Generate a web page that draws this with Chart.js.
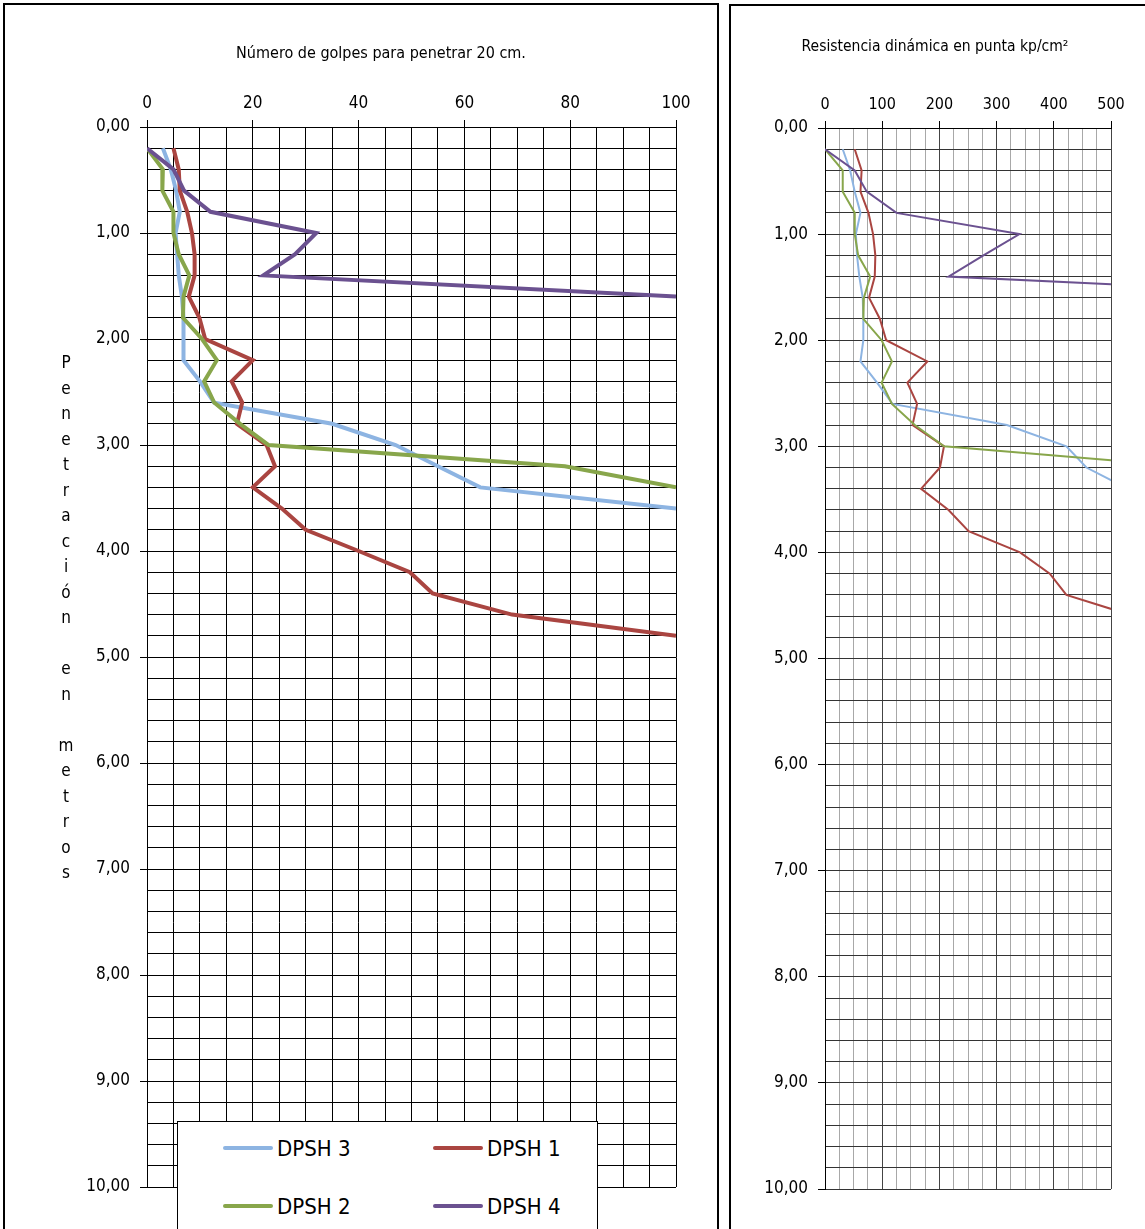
<!DOCTYPE html>
<html>
<head>
<meta charset="utf-8">
<script src="https://cdn.jsdelivr.net/npm/chart.js@4.4.1/dist/chart.umd.min.js"></script>
<style>
body { margin:0; background:#fff; width:1145px; height:1229px; overflow:hidden; position:relative;
       font-family:'Liberation Sans Narrow','Arial Narrow','DejaVu Sans Condensed',sans-serif; }
.panel { position:absolute; border:2px solid #000; box-sizing:border-box; }
canvas { position:absolute; top:0; }
#ejeY { position:absolute; left:56px; top:350px; width:20px; font-size:17px; line-height:25.5px; text-align:center; color:#000; }
#leyenda { position:absolute; left:177px; top:1121px; width:421px; height:140px; border:1px solid #000; background:#fff; box-sizing:border-box; }
.item { position:absolute; height:30px; display:flex; align-items:center; font-size:22px; color:#000; }
.item span.linea { display:inline-block; width:50px; height:4px; border-radius:2px; margin-right:4px; }
</style>
</head>
<body>
<div class="panel" style="left:3px;top:3px;width:716px;height:1300px;"></div>
<div class="panel" style="left:729px;top:4px;width:500px;height:1300px;"></div>
<canvas id="graficoGolpes" width="670" height="1229" style="left:50px;"></canvas>
<canvas id="graficoResistencia" width="410" height="1229" style="left:730px;"></canvas>
<div id="ejeY"></div>
<div id="leyenda"></div>
<script>
// profundidades (m), cada 20 cm
const profundidad = [0.2, 0.4, 0.6, 0.8, 1.0, 1.2, 1.4, 1.6, 1.8, 2.0, 2.2, 2.4, 2.6, 2.8, 3.0, 3.2, 3.4, 3.6, 3.8, 4.0, 4.2, 4.4, 4.6, 4.8];
const series = ['DPSH 3', 'DPSH 1', 'DPSH 2', 'DPSH 4'];
const colores = ['#8db4e2', '#aa4541', '#88a64b', '#6b5190'];

// número de golpes para penetrar 20 cm
const golpesDpsh3 = [3, 4.5, 5.5, 6.2, 5.4, 5.7, 6, 6.6, 6.9, 6.9, 6.9, 10, 12.7, 35, 47, 55, 63, 100];
const golpesDpsh1 = [5, 6, 6.2, 7.6, 8.5, 9, 9, 7.9, 9.9, 11, 20, 16, 18, 17, 22.6, 24.2, 20, 25.5, 30, 40, 49.7, 54, 69, 100];
const golpesDpsh2 = [0, 3, 2.9, 5, 5, 6, 8, 6.9, 6.8, 10.4, 13.2, 10.8, 12.7, 17.6, 23, 79, 100];
const golpesDpsh4 = [0, 5, 7, 12, 32, 28, 22, 100];

// resistencia dinámica en punta (kp/cm2)
const rdDpsh3 = [31, 44, 52, 62, 54, 56, 60, 66, 67, 67, 62, 91, 118, 318, 422, 457, 530, 850];
const rdDpsh1 = [52, 64, 62, 76, 84, 88, 87, 77, 96, 107, 179, 144, 161, 153, 208, 201, 168, 216, 251, 341, 393, 422, 540, 740];
const rdDpsh2 = [0, 31, 31, 52, 52, 58, 79, 68, 67, 99, 117, 99, 117, 157, 208, 650, 830];
const rdDpsh4 = [0, 52, 73, 125, 340, 277, 216, 1000];

const ejeYTexto = 'Penetración en metros';

Chart.defaults.font.family = "'Liberation Sans Narrow','Arial Narrow','DejaVu Sans Condensed',sans-serif";
Chart.defaults.color = '#000';

function puntos(valores) {
    return valores.map((v, i) => ({ x: v, y: profundidad[i] }));
}

function esEntero(v) {
    return Math.abs(v - Math.round(v)) < 1e-6;
}

function crearGrafico(id, datos, cfg) {
    return new Chart(document.getElementById(id), {
        type: 'line',
        data: {
            datasets: series.map((s, i) => ({
                label: s,
                data: puntos(datos[i]),
                borderColor: colores[i],
                backgroundColor: colores[i],
                borderWidth: cfg.grosor,
                pointRadius: 0,
                tension: 0,
                fill: false,
                order: series.length - i   // el último se dibuja encima
            }))
        },
        options: {
            responsive: false,
            animation: false,
            // el padding izquierdo desplaza el título hacia su sitio
            layout: { padding: { left: cfg.padIzq, top: 0, right: cfg.padDer, bottom: cfg.padInf } },
            plugins: {
                legend: { display: false },
                tooltip: { enabled: false },
                title: {
                    display: true,
                    text: cfg.titulo,
                    color: '#000',
                    font: { size: cfg.tamTitulo, weight: 'normal' },
                    padding: { top: cfg.padTitulo, bottom: 0 }
                }
            },
            scales: {
                x: {
                    type: 'linear',
                    position: 'top',
                    min: 0,
                    max: cfg.maxX,
                    ticks: {
                        stepSize: cfg.pasoX,
                        autoSkip: false,
                        maxRotation: 0,
                        padding: cfg.padTickX,
                        font: { size: cfg.tamTickX },
                        callback: v => (v % cfg.etiquetaX === 0 ? v : '')
                    },
                    grid: {
                        color: cfg.colorGridX,
                        tickLength: 7,
                        tickColor: ctx => (ctx.tick && ctx.tick.value % cfg.etiquetaX === 0 ? '#000' : 'rgba(0,0,0,0)')
                    },
                    border: { color: '#000' },
                    afterFit: s => { s.height = cfg.altoX; }
                },
                y: {
                    type: 'linear',
                    reverse: true,
                    min: 0,
                    max: 10,
                    ticks: {
                        stepSize: 0.2,
                        autoSkip: false,
                        padding: 10,
                        font: { size: cfg.tamTickY },
                        callback: v => (esEntero(v) ? Math.round(v).toFixed(2).replace('.', ',') : '')
                    },
                    grid: {
                        color: cfg.colorGridY,
                        tickLength: 7,
                        tickColor: ctx => (ctx.tick && esEntero(ctx.tick.value) ? '#000' : 'rgba(0,0,0,0)')
                    },
                    border: { color: '#000' },
                    afterFit: s => { s.width = cfg.anchoY; }
                }
            }
        }
    });
}

const chartGolpes = crearGrafico('graficoGolpes',
    [golpesDpsh3, golpesDpsh1, golpesDpsh2, golpesDpsh4], {
    titulo: 'Número de golpes para penetrar 20 cm.',
    tamTitulo: 16, padTitulo: 44,
    grosor: 4,
    maxX: 100, pasoX: 5, etiquetaX: 20,
    tamTickX: 17, padTickX: 6, tamTickY: 17,
    altoX: 63.8, anchoY: 61,
    padIzq: 36, padDer: 44, padInf: 42,
    colorGridX: '#000',
    colorGridY: '#000'
});

crearGrafico('graficoResistencia',
    [rdDpsh3, rdDpsh1, rdDpsh2, rdDpsh4], {
    titulo: 'Resistencia dinámica en punta kp/cm²',
    tamTitulo: 15.5, padTitulo: 38,
    grosor: 2,
    maxX: 500, pasoX: 25, etiquetaX: 100,
    tamTickX: 16, padTickX: 7, tamTickY: 17,
    altoX: 71.4, anchoY: 66,
    padIzq: 29, padDer: 29, padInf: 40,
    colorGridX: ctx => (ctx.tick && ctx.tick.value % 100 === 0 ? '#444' : '#a8a8a8'),
    colorGridY: '#333'
});

// título del eje vertical, letra por letra
document.getElementById('ejeY').innerHTML =
    ejeYTexto.split('').map(c => (c === ' ' ? '&nbsp;' : c)).join('<br>');

// leyenda en HTML encima del área de trazado
const items = Chart.defaults.plugins.legend.labels.generateLabels(chartGolpes)
    .sort((a, b) => a.datasetIndex - b.datasetIndex);
const posLeyenda = [[45, 11], [255, 11], [45, 69], [255, 69]];
const leyenda = document.getElementById('leyenda');
items.forEach((it, i) => {
    const d = document.createElement('div');
    d.className = 'item';
    d.style.left = posLeyenda[i][0] + 'px';
    d.style.top = posLeyenda[i][1] + 'px';
    d.innerHTML = '<span class="linea" style="background:' + it.strokeStyle + '"></span>' + it.text;
    leyenda.appendChild(d);
});
</script>
</body>
</html>
